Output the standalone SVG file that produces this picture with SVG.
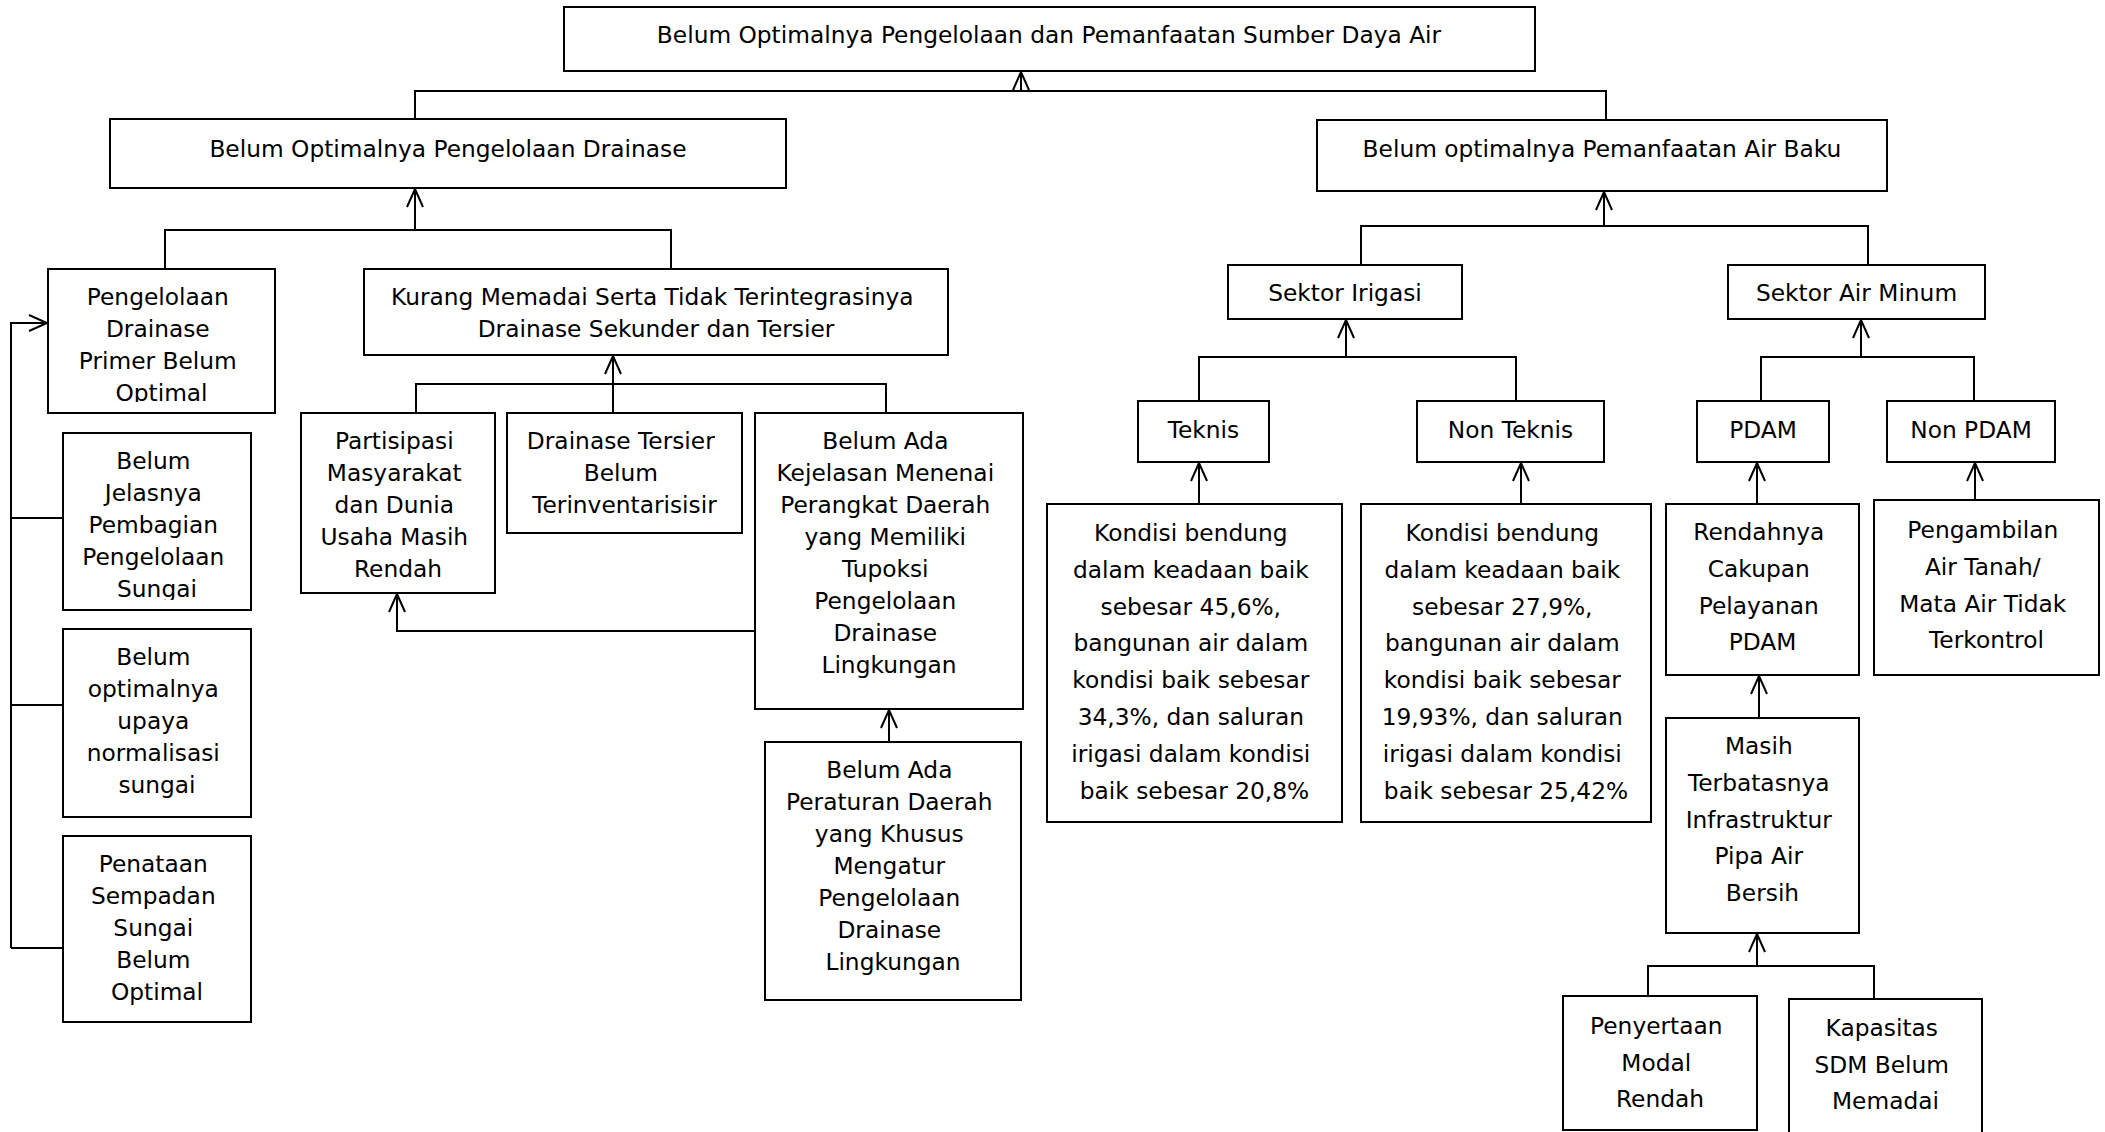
<svg xmlns="http://www.w3.org/2000/svg" width="2105" height="1132" viewBox="0 0 2105 1132">
  <style>
    .box { fill: #fff; stroke: #000; stroke-width: 2; }
    .t { font-family: "DejaVu Sans", "Liberation Sans", sans-serif; font-size: 23.3px; text-anchor: middle; fill: #000; }
    .c { fill: none; stroke: #000; stroke-width: 2; }
    .a { marker-end: url(#arr); }
  </style>
  <defs>
    <marker id="arr" markerUnits="userSpaceOnUse" markerWidth="24" markerHeight="22" viewBox="-20 -11 24 22" refX="0" refY="0" orient="auto">
      <path d="M-18,-8 L0,0 L-18,8" fill="none" stroke="#000" stroke-width="2"/>
    </marker>
    <clipPath id="clipPrimer"><rect x="48" y="269" width="227" height="133"/></clipPath>
    <clipPath id="clipJelas"><rect x="63" y="433" width="188" height="167"/></clipPath>
  </defs>

  <!-- connectors -->
  <g id="connectors">
    <path class="c" d="M415,119 V91 H1606 V120"/>
    <path class="c a" d="M1021,91 V72"/>
    <path class="c" d="M165,269 V230 H671 V269"/>
    <path class="c a" d="M415,230 V189"/>
    <path class="c" d="M416,413 V384 H886 V413"/>
    <path class="c" d="M613,413 V384"/>
    <path class="c a" d="M613,384 V356"/>
    <path class="c a" d="M755,631 H397 V594"/>
    <path class="c a" d="M889,742 V710"/>
    <path class="c a" d="M11,948 V323 H47"/>
    <path class="c" d="M11,518 H63 M11,705 H63 M11,948 H63"/>
    <path class="c" d="M1361,265 V226 H1868 V265"/>
    <path class="c a" d="M1604,226 V192"/>
    <path class="c" d="M1199,401 V357 H1516 V401"/>
    <path class="c a" d="M1346,357 V320"/>
    <path class="c" d="M1761,401 V357 H1974 V401"/>
    <path class="c a" d="M1861,357 V320"/>
    <path class="c a" d="M1199,504 V463"/>
    <path class="c a" d="M1521,504 V463"/>
    <path class="c a" d="M1757,504 V463"/>
    <path class="c a" d="M1975,500 V463"/>
    <path class="c a" d="M1759,718 V676"/>
    <path class="c" d="M1648,996 V966 H1874 V999"/>
    <path class="c a" d="M1757,966 V934"/>
  </g>

  <g id="n-root">
    <rect class="box" x="564" y="7" width="971" height="64"/>
    <text class="t" x="1049" y="43">Belum Optimalnya Pengelolaan dan Pemanfaatan Sumber Daya Air</text>
  </g>
  <g id="n-drainase">
    <rect class="box" x="110" y="119" width="676" height="69"/>
    <text class="t" x="448" y="157">Belum Optimalnya Pengelolaan Drainase</text>
  </g>
  <g id="n-airbaku">
    <rect class="box" x="1317" y="120" width="570" height="71"/>
    <text class="t" x="1602" y="157">Belum optimalnya Pemanfaatan Air Baku</text>
  </g>
  <g id="n-primer">
    <rect class="box" x="48" y="269" width="227" height="144"/>
    <text class="t" clip-path="url(#clipPrimer)">
      <tspan x="161.5" y="305">Pengelolaan</tspan>
      <tspan x="161.5" y="337">Drainase</tspan>
      <tspan x="161.5" y="369">Primer Belum</tspan>
      <tspan x="161.5" y="401">Optimal</tspan>
    </text>
  </g>
  <g id="n-kurang">
    <rect class="box" x="364" y="269" width="584" height="86"/>
    <text class="t">
      <tspan x="656" y="305">Kurang Memadai Serta Tidak Terintegrasinya</tspan>
      <tspan x="656" y="337">Drainase Sekunder dan Tersier</tspan>
    </text>
  </g>
  <g id="n-partisipasi">
    <rect class="box" x="301" y="413" width="194" height="180"/>
    <text class="t">
      <tspan x="398" y="449">Partisipasi</tspan>
      <tspan x="398" y="481">Masyarakat</tspan>
      <tspan x="398" y="513">dan Dunia</tspan>
      <tspan x="398" y="545">Usaha Masih</tspan>
      <tspan x="398" y="577">Rendah</tspan>
    </text>
  </g>
  <g id="n-tersier">
    <rect class="box" x="507" y="413" width="235" height="120"/>
    <text class="t">
      <tspan x="624.5" y="449">Drainase Tersier</tspan>
      <tspan x="624.5" y="481">Belum</tspan>
      <tspan x="624.5" y="513">Terinventarisisir</tspan>
    </text>
  </g>
  <g id="n-kejelasan">
    <rect class="box" x="755" y="413" width="268" height="296"/>
    <text class="t">
      <tspan x="889" y="449">Belum Ada</tspan>
      <tspan x="889" y="481">Kejelasan Menenai</tspan>
      <tspan x="889" y="513">Perangkat Daerah</tspan>
      <tspan x="889" y="545">yang Memiliki</tspan>
      <tspan x="889" y="577">Tupoksi</tspan>
      <tspan x="889" y="609">Pengelolaan</tspan>
      <tspan x="889" y="641">Drainase</tspan>
      <tspan x="889" y="673">Lingkungan</tspan>
    </text>
  </g>
  <g id="n-peraturan">
    <rect class="box" x="765" y="742" width="256" height="258"/>
    <text class="t">
      <tspan x="893" y="778">Belum Ada</tspan>
      <tspan x="893" y="810">Peraturan Daerah</tspan>
      <tspan x="893" y="842">yang Khusus</tspan>
      <tspan x="893" y="874">Mengatur</tspan>
      <tspan x="893" y="906">Pengelolaan</tspan>
      <tspan x="893" y="938">Drainase</tspan>
      <tspan x="893" y="970">Lingkungan</tspan>
    </text>
  </g>
  <g id="n-jelasnya">
    <rect class="box" x="63" y="433" width="188" height="177"/>
    <text class="t" clip-path="url(#clipJelas)">
      <tspan x="157" y="469">Belum</tspan>
      <tspan x="157" y="501">Jelasnya</tspan>
      <tspan x="157" y="533">Pembagian</tspan>
      <tspan x="157" y="565">Pengelolaan</tspan>
      <tspan x="157" y="597">Sungai</tspan>
    </text>
  </g>
  <g id="n-normalisasi">
    <rect class="box" x="63" y="629" width="188" height="188"/>
    <text class="t">
      <tspan x="157" y="665">Belum</tspan>
      <tspan x="157" y="697">optimalnya</tspan>
      <tspan x="157" y="729">upaya</tspan>
      <tspan x="157" y="761">normalisasi</tspan>
      <tspan x="157" y="793">sungai</tspan>
    </text>
  </g>
  <g id="n-sempadan">
    <rect class="box" x="63" y="836" width="188" height="186"/>
    <text class="t">
      <tspan x="157" y="872">Penataan</tspan>
      <tspan x="157" y="904">Sempadan</tspan>
      <tspan x="157" y="936">Sungai</tspan>
      <tspan x="157" y="968">Belum</tspan>
      <tspan x="157" y="1000">Optimal</tspan>
    </text>
  </g>
  <g id="n-irigasi">
    <rect class="box" x="1228" y="265" width="234" height="54"/>
    <text class="t" x="1345" y="301">Sektor Irigasi</text>
  </g>
  <g id="n-airminum">
    <rect class="box" x="1728" y="265" width="257" height="54"/>
    <text class="t" x="1856.5" y="301">Sektor Air Minum</text>
  </g>
  <g id="n-teknis">
    <rect class="box" x="1138" y="401" width="131" height="61"/>
    <text class="t" x="1203.5" y="438">Teknis</text>
  </g>
  <g id="n-nonteknis">
    <rect class="box" x="1417" y="401" width="187" height="61"/>
    <text class="t" x="1510.5" y="438">Non Teknis</text>
  </g>
  <g id="n-pdam">
    <rect class="box" x="1697" y="401" width="132" height="61"/>
    <text class="t" x="1763" y="438">PDAM</text>
  </g>
  <g id="n-nonpdam">
    <rect class="box" x="1887" y="401" width="168" height="61"/>
    <text class="t" x="1971" y="438">Non PDAM</text>
  </g>
  <g id="n-kondisi-teknis">
    <rect class="box" x="1047" y="504" width="295" height="318"/>
    <text class="t">
      <tspan x="1194.5" y="541">Kondisi bendung</tspan>
      <tspan x="1194.5" y="577.8">dalam keadaan baik</tspan>
      <tspan x="1194.5" y="614.6">sebesar 45,6%,</tspan>
      <tspan x="1194.5" y="651.4">bangunan air dalam</tspan>
      <tspan x="1194.5" y="688.2">kondisi baik sebesar</tspan>
      <tspan x="1194.5" y="725">34,3%, dan saluran</tspan>
      <tspan x="1194.5" y="761.8">irigasi dalam kondisi</tspan>
      <tspan x="1194.5" y="798.6">baik sebesar 20,8%</tspan>
    </text>
  </g>
  <g id="n-kondisi-nonteknis">
    <rect class="box" x="1361" y="504" width="290" height="318"/>
    <text class="t">
      <tspan x="1506" y="541">Kondisi bendung</tspan>
      <tspan x="1506" y="577.8">dalam keadaan baik</tspan>
      <tspan x="1506" y="614.6">sebesar 27,9%,</tspan>
      <tspan x="1506" y="651.4">bangunan air dalam</tspan>
      <tspan x="1506" y="688.2">kondisi baik sebesar</tspan>
      <tspan x="1506" y="725">19,93%, dan saluran</tspan>
      <tspan x="1506" y="761.8">irigasi dalam kondisi</tspan>
      <tspan x="1506" y="798.6">baik sebesar 25,42%</tspan>
    </text>
  </g>
  <g id="n-rendahnya">
    <rect class="box" x="1666" y="504" width="193" height="171"/>
    <text class="t">
      <tspan x="1762.5" y="540">Rendahnya</tspan>
      <tspan x="1762.5" y="576.8">Cakupan</tspan>
      <tspan x="1762.5" y="613.6">Pelayanan</tspan>
      <tspan x="1762.5" y="650.4">PDAM</tspan>
    </text>
  </g>
  <g id="n-pengambilan">
    <rect class="box" x="1874" y="500" width="225" height="175"/>
    <text class="t">
      <tspan x="1986.5" y="538">Pengambilan</tspan>
      <tspan x="1986.5" y="574.8">Air Tanah/</tspan>
      <tspan x="1986.5" y="611.6">Mata Air Tidak</tspan>
      <tspan x="1986.5" y="648.4">Terkontrol</tspan>
    </text>
  </g>
  <g id="n-pipa">
    <rect class="box" x="1666" y="718" width="193" height="215"/>
    <text class="t">
      <tspan x="1762.5" y="754">Masih</tspan>
      <tspan x="1762.5" y="790.8">Terbatasnya</tspan>
      <tspan x="1762.5" y="827.6">Infrastruktur</tspan>
      <tspan x="1762.5" y="864.4">Pipa Air</tspan>
      <tspan x="1762.5" y="901.2">Bersih</tspan>
    </text>
  </g>
  <g id="n-modal">
    <rect class="box" x="1563" y="996" width="194" height="134"/>
    <text class="t">
      <tspan x="1660" y="1034">Penyertaan</tspan>
      <tspan x="1660" y="1070.5">Modal</tspan>
      <tspan x="1660" y="1107">Rendah</tspan>
    </text>
  </g>
  <g id="n-sdm">
    <rect class="box" x="1789" y="999" width="193" height="140"/>
    <text class="t">
      <tspan x="1885.5" y="1036">Kapasitas</tspan>
      <tspan x="1885.5" y="1073">SDM Belum</tspan>
      <tspan x="1885.5" y="1109">Memadai</tspan>
    </text>
  </g>
</svg>
